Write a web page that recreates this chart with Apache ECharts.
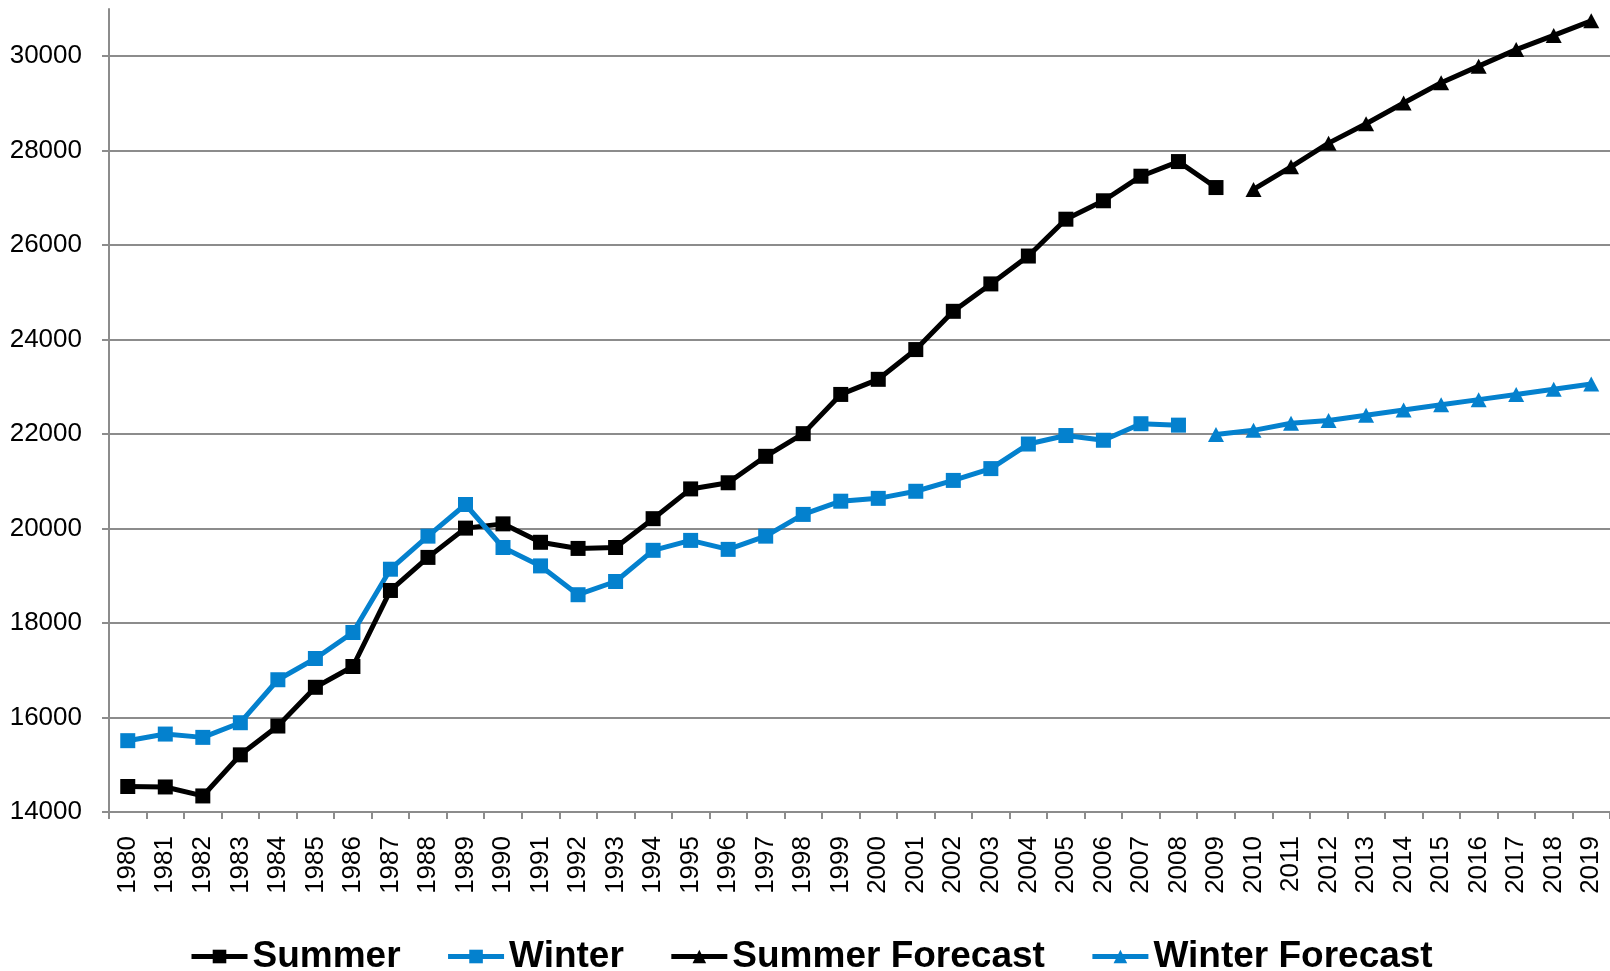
<!DOCTYPE html>
<html>
<head>
<meta charset="utf-8">
<script src="https://cdn.jsdelivr.net/npm/echarts@6/dist/echarts.min.js"></script>
<style>
  html, body { margin: 0; padding: 0; background: #fff; }
  #chart { width: 1610px; height: 971px; }
</style>
</head>
<body>
<div id="chart"></div>
<script>
// Categories (years)
var years = [];
for (var y = 1980; y <= 2019; y++) { years.push(String(y)); }

// Summer actuals 1980-2009
var summerValues = [14540, 14530, 14340, 15210, 15820, 16640, 17080, 18690, 19390, 20010,
                    20100, 19710, 19580, 19600, 20210, 20840, 20970, 21530, 22010, 22840,
                    23160, 23790, 24600, 25180, 25770, 26550, 26940, 27460, 27770, 27220];
// Winter actuals 1980-2008
var winterValues = [15510, 15650, 15580, 15890, 16800, 17250, 17800, 19140, 19840, 20510,
                    19600, 19210, 18600, 18880, 19540, 19750, 19560, 19840, 20300, 20580,
                    20640, 20790, 21020, 21270, 21790, 21970, 21870, 22220, 22190];
// Summer forecast 2010-2019
var summerForecastValues = [27180, 27660, 28160, 28570, 29010, 29440, 29790, 30140, 30440, 30750];
// Winter forecast 2009-2019
var winterForecastValues = [21990, 22080, 22230, 22290, 22400, 22510, 22620, 22730, 22840, 22950, 23060];

// Y tick labels
var yTicks = [14000, 16000, 18000, 20000, 22000, 24000, 26000, 28000, 30000];

function pad(before, values) {
  var out = [];
  for (var i = 0; i < before; i++) out.push(null);
  out = out.concat(values);
  while (out.length < years.length) out.push(null);
  return out;
}

var BLACK = '#000000';
var BLUE = '#0481CE';
var FONT = "'Liberation Sans', Arial, sans-serif";

var chart = echarts.init(document.getElementById('chart'), null, { renderer: 'canvas' });

var gridColors = [];
for (var k = 0; k < yTicks.length; k++) gridColors.push('#8c8c8c');
gridColors.push('rgba(0,0,0,0)');

function lineSeries(name, data, color, symbol, size) {
  return {
    name: name,
    type: 'line',
    data: data,
    symbol: symbol,
    symbolSize: size,
    showSymbol: true,
    connectNulls: false,
    lineStyle: { color: color, width: 5 },
    itemStyle: { color: color },
    emphasis: { disabled: true },
    animation: false,
    z: 3
  };
}

chart.setOption({
  backgroundColor: '#ffffff',
  animation: false,
  grid: { left: 109, right: 0, top: 9, bottom: 159, containLabel: false },
  legend: {
    left: 184,
    top: 933,
    itemWidth: 56,
    itemHeight: 17,
    itemGap: 45,
    lineStyle: { width: 5 },
    textStyle: { fontFamily: FONT, fontSize: 37, fontWeight: 'bold', color: '#000' },
    data: ['Summer', 'Winter', 'Summer Forecast', 'Winter Forecast']
  },
  xAxis: {
    type: 'category',
    data: years,
    boundaryGap: true,
    axisLine: { show: true, lineStyle: { color: '#8c8c8c', width: 2 } },
    axisTick: { show: true, length: 7, lineStyle: { color: '#8c8c8c', width: 2 } },
    axisLabel: {
      rotate: 90,
      interval: 0,
      margin: 24,
      fontFamily: FONT,
      fontSize: 26,
      color: '#000'
    },
    splitLine: { show: false }
  },
  yAxis: {
    type: 'value',
    min: 14000,
    max: 31000,
    interval: 2000,
    axisLine: { show: true, lineStyle: { color: '#8c8c8c', width: 2 } },
    axisTick: { show: true, length: 7, lineStyle: { color: '#8c8c8c', width: 2 }, customValues: yTicks },
    axisLabel: {
      margin: 27,
      fontFamily: FONT,
      fontSize: 26,
      color: '#000',
      customValues: yTicks,
      formatter: function (v) { return String(v); }
    },
    splitLine: { show: true, lineStyle: { color: gridColors, width: 2 } }
  },
  series: [
    lineSeries('Summer', pad(0, summerValues), BLACK, 'rect', 15),
    lineSeries('Winter', pad(0, winterValues), BLUE, 'rect', 15),
    lineSeries('Summer Forecast', pad(30, summerForecastValues), BLACK, 'triangle', [16, 15]),
    lineSeries('Winter Forecast', pad(29, winterForecastValues), BLUE, 'triangle', [16, 15])
  ]
});
</script>
</body>
</html>
